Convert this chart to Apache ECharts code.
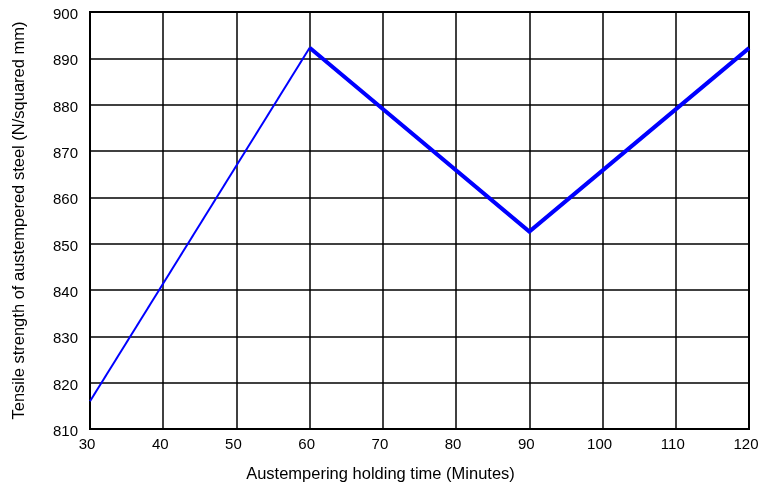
<!DOCTYPE html>
<html>
<head>
<meta charset="utf-8">
<script src="https://cdn.jsdelivr.net/npm/echarts@6/dist/echarts.min.js"></script>
<style>
  html, body { margin: 0; padding: 0; background: #fff; }
  #chart { width: 760px; height: 485px; }
</style>
</head>
<body>
<div id="chart"></div>
<script>
// Holding time (minutes) and tensile strength (N/mm^2)
const holdingTime = [30, 60, 90, 120];
const tensileStrength = [816, 892.3, 852.6, 892.2];

const xTicks = [30, 40, 50, 60, 70, 80, 90, 100, 110, 120];
const yTicks = [810, 820, 830, 840, 850, 860, 870, 880, 890, 900];

const pts = holdingTime.map((t, i) => [t, tensileStrength[i]]);
const risingPart = pts.slice(0, 2);
const laterPart = pts.slice(1);

const font = 'Liberation Sans, Arial, sans-serif';

const chart = echarts.init(document.getElementById('chart'));
chart.setOption({
  animation: false,
  backgroundColor: '#ffffff',
  grid: {
    left: 90, right: 11, top: 12, bottom: 56,
    outerBoundsMode: 'none',
    show: true, borderColor: '#000', borderWidth: 2
  },
  xAxis: {
    type: 'value',
    min: xTicks[0], max: xTicks[xTicks.length - 1], interval: 10,
    name: 'Austempering holding time (Minutes)',
    nameLocation: 'middle', nameGap: 37,
    nameTextStyle: { fontFamily: font, fontSize: 16.5, color: '#000', padding: [0, 78, 0, 0] },
    axisLine: { show: true, lineStyle: { color: '#000', width: 2 } },
    axisTick: { show: false },
    axisLabel: { fontFamily: font, fontSize: 15, color: '#000', margin: 8, padding: [0, 6, 0, 0] },
    splitLine: { show: true, lineStyle: { color: '#000', width: 1.5 } }
  },
  yAxis: {
    type: 'value',
    min: yTicks[0], max: yTicks[yTicks.length - 1], interval: 10,
    name: 'Tensile strength of austempered steel (N/squared mm)',
    nameLocation: 'middle', nameGap: 62, nameRotate: 90,
    nameTextStyle: { fontFamily: font, fontSize: 16.5, color: '#000' },
    axisLine: { show: true, lineStyle: { color: '#000', width: 2 } },
    axisTick: { show: false },
    axisLabel: {
      fontFamily: font, fontSize: 15, color: '#000', margin: 12,
      verticalAlign: 'top', lineHeight: 6
    },
    splitLine: { show: true, lineStyle: { color: '#000', width: 1.5 } }
  },
  series: [
    {
      type: 'line', data: risingPart, symbol: 'none',
      lineStyle: { color: '#0000ff', width: 2 }
    },
    {
      type: 'line', data: laterPart, symbol: 'none',
      lineStyle: { color: '#0000ff', width: 4, join: 'miter' }
    }
  ]
});
</script>
</body>
</html>
